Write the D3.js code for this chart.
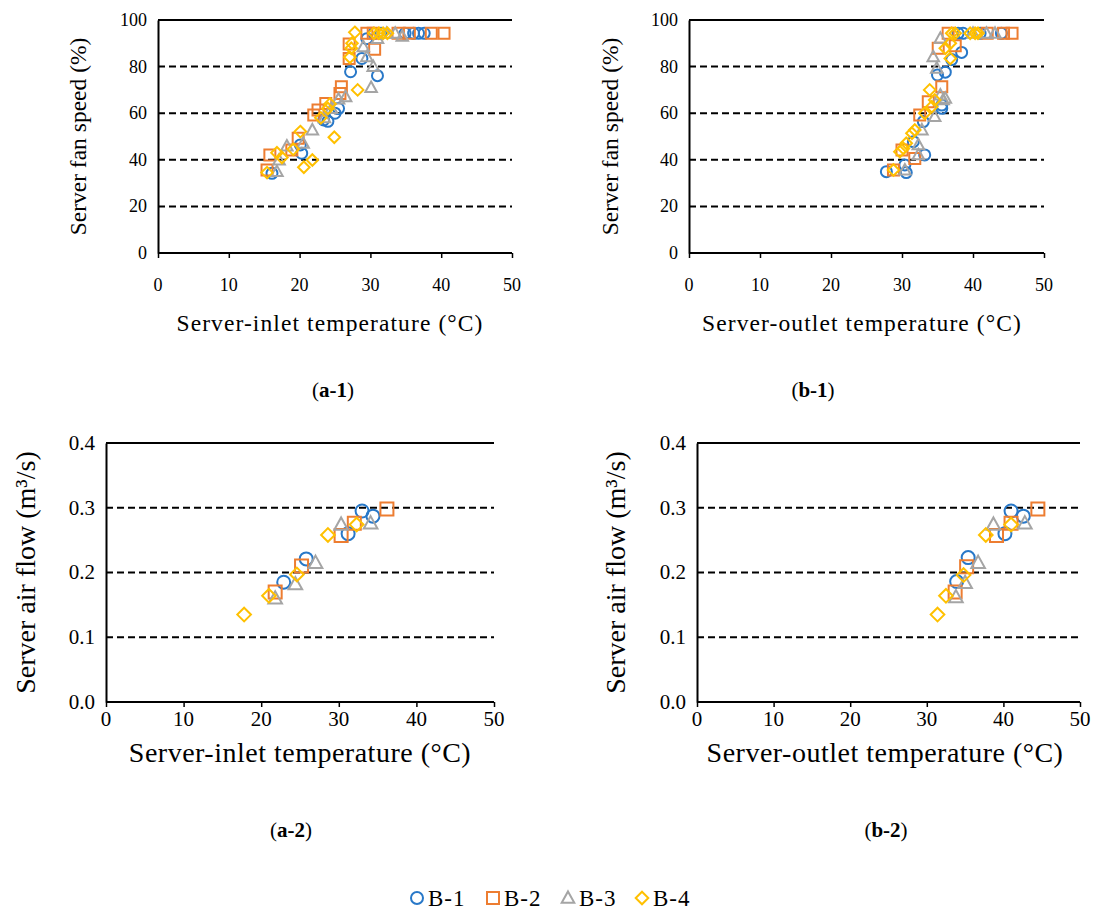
<!DOCTYPE html>
<html>
<head>
<meta charset="utf-8">
<script src="https://cdn.jsdelivr.net/npm/d3@7"></script>
<style>
body { margin: 0; background: #fff; }
text { font-family: "Liberation Serif", "Times New Roman", serif; fill: #000; }
</style>
</head>
<body>
<svg id="chart" width="1099" height="911"></svg>
<script>
const series_names = ["B-1", "B-2", "B-3", "B-4"];
const series_colors = ["#2878C8", "#ED7D31", "#A5A5A5", "#FFC000"];
const series_shapes = ["circle", "square", "triangle", "diamond"];

const x_ticks = [0, 10, 20, 30, 40, 50];
const fan_ticks = [0, 20, 40, 60, 80, 100];
const flow_ticks = [0.0, 0.1, 0.2, 0.3, 0.4];

// (a-1) inlet temperature vs fan speed
const a1_b1 = [[16.1,34.2],[20.1,46.4],[20.3,42.8],[23.4,57.1],[24.0,56.5],[25.0,60.0],[25.5,62.0],[27.2,77.8],[28.8,83.5],[31.0,76.1],[29.5,92.0],[30.5,94.3],[31.5,94.3],[34.9,94.3],[36.1,94.3],[36.8,94.3],[37.6,94.3]];
const a1_b2 = [[15.4,35.6],[15.8,42.1],[18.9,44.2],[19.8,49.2],[22.0,59.2],[22.6,61.4],[23.7,64.2],[25.7,68.5],[25.9,71.4],[27.0,83.5],[27.0,89.7],[30.6,87.4],[29.5,94.3],[30.4,94.3],[33.9,94.3],[35.5,94.3],[38.6,94.3],[40.4,94.3]];
const a1_b3 = [[16.8,34.9],[17.1,39.9],[18.2,45.9],[20.5,47.1],[21.8,52.8],[23.5,58.0],[24.5,62.0],[25.5,66.0],[26.5,67.0],[29.0,88.5],[29.5,84.2],[30.4,80.0],[30.1,71.0],[31.0,92.0],[32.3,94.3],[33.5,94.3],[34.5,93.0]];
const a1_b4 = [[15.4,34.5],[16.8,43.0],[17.5,41.0],[19.1,44.5],[20.1,52.1],[20.6,36.8],[21.8,39.9],[23.0,58.0],[24.0,62.0],[24.3,64.0],[24.9,49.7],[27.3,87.9],[27.1,84.0],[27.4,90.0],[27.8,94.7],[28.2,70.0],[30.5,94.3],[31.2,94.3],[31.8,94.3],[32.4,94.3]];

// (b-1) outlet temperature vs fan speed
const b1_b1 = [[27.8,34.9],[30.6,34.5],[30.4,37.8],[31.6,47.8],[33.2,42.1],[33.0,56.4],[35.6,62.1],[35.6,63.5],[35.0,76.4],[36.1,77.6],[38.4,86.1],[37.0,83.0],[37.9,94.3],[38.6,94.3],[41.0,94.3],[44.0,94.3]];
const b1_b2 = [[28.8,35.6],[30.0,44.2],[31.8,40.6],[32.5,59.2],[33.7,64.9],[35.6,71.4],[35.1,87.9],[37.5,89.0],[36.5,94.3],[42.0,94.3],[44.3,94.3],[45.5,94.3]];
const b1_b3 = [[30.4,35.6],[32.3,42.1],[32.3,46.4],[32.8,52.8],[34.6,58.5],[35.8,65.7],[36.1,66.4],[35.4,67.8],[34.9,79.3],[34.4,84.2],[35.4,92.1],[40.0,94.3],[41.9,94.3],[43.1,94.3]];
const b1_b4 = [[28.8,35.6],[29.7,43.5],[30.2,44.9],[30.6,47.1],[31.4,51.4],[31.8,52.8],[33.2,60.0],[34.2,62.8],[34.6,65.7],[33.9,70.0],[36.8,83.5],[36.1,87.9],[36.8,90.0],[37.0,94.3],[37.5,94.3],[39.6,94.3],[40.3,94.3],[40.7,94.3]];

// (a-2) inlet temperature vs air flow
const a2_b1 = [[33.0,0.295],[34.4,0.287],[31.2,0.260],[25.8,0.221],[22.9,0.185]];
const a2_b2 = [[36.2,0.298],[32.0,0.276],[30.3,0.257],[25.2,0.210],[21.8,0.170]];
const a2_b3 = [[34.1,0.276],[30.3,0.274],[27.0,0.215],[24.4,0.182],[21.8,0.160]];
const a2_b4 = [[32.3,0.274],[28.6,0.258],[24.6,0.197],[21.0,0.164],[17.8,0.135]];

// (b-2) outlet temperature vs air flow
const b2_b1 = [[41.0,0.295],[42.6,0.287],[40.2,0.260],[35.4,0.223],[33.9,0.186]];
const b2_b2 = [[44.5,0.298],[41.0,0.276],[39.1,0.257],[35.2,0.209],[33.7,0.170]];
const b2_b3 = [[42.8,0.276],[38.7,0.274],[36.7,0.215],[35.0,0.184],[33.8,0.162]];
const b2_b4 = [[41.0,0.274],[37.7,0.258],[34.8,0.196],[32.5,0.164],[31.4,0.135]];

const panels = [
    { tag: "a-1", rect: [158, 20, 512, 253], ydomain: [0, 100], yticks: fan_ticks, yfmt: d3.format("d"),
      xtitle: "Server-inlet temperature (°C)", ytitle: "Server fan speed (%)",
      series: [a1_b1, a1_b2, a1_b3, a1_b4], size: 11, tickfont: 18, titlefont: 23.5, xspacing: 1.1,
      ytitle_x: 86, xlabel_y: 291, xtitle_x: 330, xtitle_y: 331, caption: [333, 397] },
    { tag: "b-1", rect: [689, 20, 1044, 253], ydomain: [0, 100], yticks: fan_ticks, yfmt: d3.format("d"),
      xtitle: "Server-outlet temperature (°C)", ytitle: "Server fan speed (%)",
      series: [b1_b1, b1_b2, b1_b3, b1_b4], size: 11, tickfont: 18, titlefont: 23.5, xspacing: 1.1,
      ytitle_x: 618, xlabel_y: 291, xtitle_x: 862, xtitle_y: 331, caption: [813, 397] },
    { tag: "a-2", rect: [106, 443, 494, 702], ydomain: [0, 0.4], yticks: flow_ticks, yfmt: d3.format(".1f"),
      xtitle: "Server-inlet temperature (°C)", ytitle: "Server air flow (m³/s)",
      series: [a2_b1, a2_b2, a2_b3, a2_b4], size: 13, tickfont: 21, titlefont: 28, xspacing: 0.5,
      ytitle_x: 35, xlabel_y: 726, xtitle_x: 300, xtitle_y: 762, caption: [291, 837] },
    { tag: "b-2", rect: [697, 443, 1080, 702], ydomain: [0, 0.4], yticks: flow_ticks, yfmt: d3.format(".1f"),
      xtitle: "Server-outlet temperature (°C)", ytitle: "Server air flow (m³/s)",
      series: [b2_b1, b2_b2, b2_b3, b2_b4], size: 13, tickfont: 21, titlefont: 28, xspacing: 0.5,
      ytitle_x: 625, xlabel_y: 726, xtitle_x: 885, xtitle_y: 762, caption: [886, 837] }
];

function markerPath(shape, s) {
    const h = s / 2;
    const p = d3.path();
    if (shape == "circle") {
        p.arc(0, 0, h, 0, 2 * Math.PI);
    } else if (shape == "square") {
        p.rect(-h, -h, s, s);
    } else if (shape == "triangle") {
        p.moveTo(0, -h * 1.1);
        p.lineTo(h * 1.05, h * 0.8);
        p.lineTo(-h * 1.05, h * 0.8);
        p.closePath();
    } else {
        p.moveTo(0, -h * 1.05);
        p.lineTo(h * 1.05, 0);
        p.lineTo(0, h * 1.05);
        p.lineTo(-h * 1.05, 0);
        p.closePath();
    }
    return p.toString();
}

const svg = d3.select("#chart");

panels.forEach(panel => {
    const [x0, y0, x1, y1] = panel.rect;
    const xScale = d3.scaleLinear().domain([0, 50]).range([x0, x1]);
    const yScale = d3.scaleLinear().domain(panel.ydomain).range([y1, y0]);
    const g = svg.append("g");

    // dashed gridlines
    g.selectAll(".grid")
      .data(panel.yticks.slice(1, -1))
      .join("line")
      .attr("x1", x0).attr("x2", x1)
      .attr("y1", d => yScale(d)).attr("y2", d => yScale(d))
      .attr("stroke", "#000")
      .attr("stroke-width", 2)
      .attr("stroke-dasharray", "7,4");

    // top border
    g.append("line")
      .attr("x1", x0).attr("x2", x1)
      .attr("y1", yScale(panel.ydomain[1])).attr("y2", yScale(panel.ydomain[1]))
      .attr("stroke", "#000").attr("stroke-width", 2);

    const xAxis = g.append("g")
      .attr("transform", "translate(0," + y1 + ")")
      .call(d3.axisBottom(xScale).tickValues(x_ticks).tickSize(5).tickFormat(""));
    xAxis.select(".domain").attr("stroke-width", 2).attr("d", "M" + x0 + ",0H" + x1);
    xAxis.selectAll(".tick line").attr("stroke-width", 1.5);

    const yAxis = g.append("g")
      .attr("transform", "translate(" + x0 + ",0)")
      .call(d3.axisLeft(yScale).tickValues(panel.yticks).tickSize(0).tickFormat(""));
    yAxis.select(".domain").attr("stroke-width", 2);

    // tick labels
    g.selectAll(".xlabel")
      .data(x_ticks)
      .join("text")
      .attr("x", d => xScale(d))
      .attr("y", panel.xlabel_y)
      .attr("text-anchor", "middle")
      .style("font-size", panel.tickfont + "px")
      .text(d => d);

    g.selectAll(".ylabel")
      .data(panel.yticks)
      .join("text")
      .attr("x", x0 - 11)
      .attr("y", d => yScale(d) + panel.tickfont * 0.33)
      .attr("text-anchor", "end")
      .style("font-size", panel.tickfont + "px")
      .text(d => panel.yfmt(d));

    // titles
    g.append("text")
      .attr("x", panel.xtitle_x)
      .attr("y", panel.xtitle_y)
      .attr("text-anchor", "middle")
      .style("font-size", panel.titlefont + "px")
      .style("letter-spacing", panel.xspacing + "px")
      .text(panel.xtitle);

    g.append("text")
      .attr("transform", "translate(" + panel.ytitle_x + "," + (y0 + y1) / 2 + ") rotate(-90)")
      .attr("text-anchor", "middle")
      .style("font-size", panel.titlefont + "px")
      .text(panel.ytitle);

    const cap = g.append("text")
      .attr("x", panel.caption[0])
      .attr("y", panel.caption[1])
      .attr("text-anchor", "middle")
      .style("font-size", "21px");
    cap.append("tspan").text("(");
    cap.append("tspan").style("font-weight", "bold").text(panel.tag);
    cap.append("tspan").text(")");

    // markers
    panel.series.forEach((points, i) => {
        g.selectAll(".m" + i)
          .data(points)
          .join("path")
          .attr("d", markerPath(series_shapes[i], panel.size))
          .attr("transform", d => "translate(" + xScale(d[0]) + "," + yScale(d[1]) + ")")
          .attr("fill", "none")
          .attr("stroke", series_colors[i])
          .attr("stroke-width", 2);
    });
});

// legend
const legend_x = [417, 493, 568, 642];
const legend = svg.append("g");
series_names.forEach((name, i) => {
    legend.append("path")
      .attr("d", markerPath(series_shapes[i], 12))
      .attr("transform", "translate(" + legend_x[i] + ",898)")
      .attr("fill", "none")
      .attr("stroke", series_colors[i])
      .attr("stroke-width", 2);
    legend.append("text")
      .attr("x", legend_x[i] + 11)
      .attr("y", 906)
      .style("font-size", "23px")
      .style("letter-spacing", "1px")
      .text(name);
});
</script>
</body>
</html>
